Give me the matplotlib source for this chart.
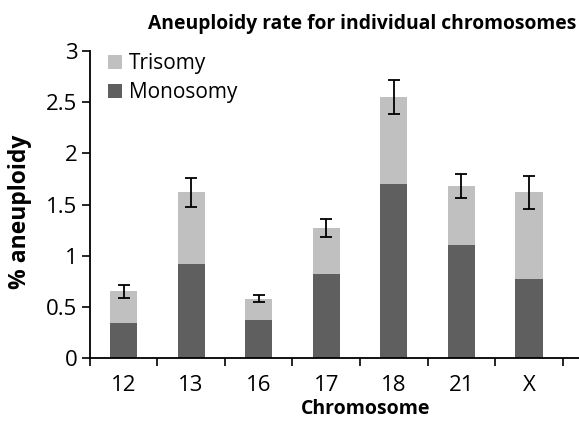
import numpy as np
import matplotlib
matplotlib.use("Agg")
import matplotlib.pyplot as plt

# values
chromosomes = ["12", "13", "16", "17", "18", "21", "X"]
monosomy = [0.34, 0.92, 0.37, 0.82, 1.70, 1.10, 0.77]
total = [0.65, 1.62, 0.58, 1.27, 2.55, 1.68, 1.62]
errors = [0.06, 0.14, 0.035, 0.085, 0.165, 0.115, 0.16]
trisomy = [t - m for t, m in zip(total, monosomy)]

yticks = [0, 0.5, 1, 1.5, 2, 2.5, 3]
ytick_labels = ["0", "0.5", "1", "1.5", "2", "2.5", "3"]

plt.rcParams['font.family'] = ['Open Sans', 'DejaVu Sans']

fig = plt.figure(figsize=(5.79, 4.33), dpi=100)
ax = fig.add_axes([0.155, 0.1732, 0.845, 0.709])

x = np.arange(len(chromosomes))
ax.bar(x, monosomy, width=0.40, color="#5f5f5f", label="Monosomy", zorder=2)
ax.bar(x, trisomy, width=0.40, bottom=monosomy, color="#c0c0c0",
       label="Trisomy", zorder=2)
ax.errorbar(x, total, yerr=errors, fmt="none", ecolor="black",
            elinewidth=1.3, capsize=4, capthick=1.3, zorder=3)

ax.set_xlim(-0.5, 6.74)
ax.set_ylim(0, 3)
ax.set_yticks(yticks)
ax.set_yticklabels(ytick_labels, fontsize=16)
ax.set_xticks(x)
ax.set_xticklabels(chromosomes, fontsize=16)
ax.set_xticks(np.arange(-0.5, 7.0, 1.0), minor=True)
ax.tick_params(axis="x", which="major", length=0, pad=12)
ax.tick_params(axis="x", which="minor", length=6, width=1.2, direction="out")
ax.tick_params(axis="y", length=6, width=1.2, pad=3)

for side in ["top", "right"]:
    ax.spines[side].set_visible(False)
for side in ["left", "bottom"]:
    ax.spines[side].set_linewidth(1.3)

handles, labels = ax.get_legend_handles_labels()
ax.legend(handles[::-1], labels[::-1], loc="upper left", frameon=False,
          fontsize=15, handlelength=0.65, handleheight=0.65, handletextpad=0.35,
          labelspacing=0.4, bbox_to_anchor=(0.0, 1.055))

fig.text(0.626, 0.933, "Aneuploidy rate for individual chromosomes",
         ha="center", va="baseline", fontsize=13.9, fontweight="bold")
fig.text(0.632, 0.044, "Chromosome", ha="center", va="baseline",
         fontsize=14, fontweight="bold")
fig.text(0.035, 0.51, "% aneuploidy", ha="center", va="center",
         rotation=90, fontsize=16.5, fontweight="bold")

fig.savefig("out.png", dpi=100)
